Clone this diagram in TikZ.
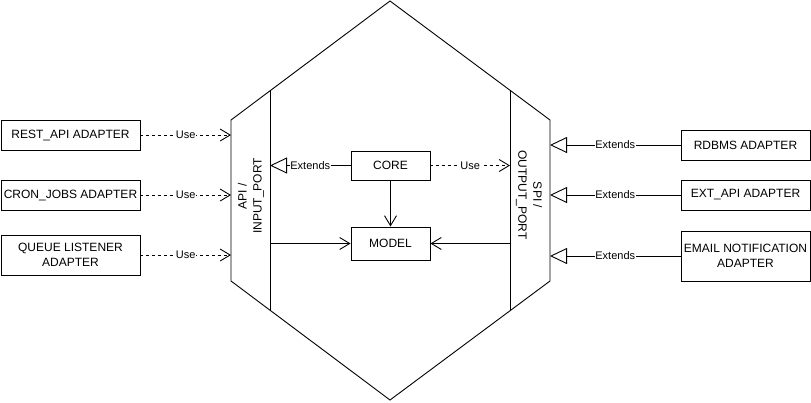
\documentclass[tikz,border=0pt]{standalone}
\usepackage{fontspec}
\setmainfont{Liberation Sans}
\usetikzlibrary{arrows.meta}
\begin{document}
\begin{tikzpicture}[x=1pt,y=-1pt, line width=0.9pt,
  box/.style={draw, rectangle, inner sep=0pt, align=center, font=\fontsize{12}{14.5}\selectfont},
  lbl/.style={fill=white, inner sep=0.5pt, font=\fontsize{11}{12}\selectfont},
  portlbl/.style={align=center, inner sep=0pt, font=\fontsize{12}{15}\selectfont},
  usearrow/.style={dash pattern=on 3pt off 3pt, -{Straight Barb[length=10pt,width=12pt]}},
  openarrow/.style={-{Straight Barb[length=10pt,width=12pt]}},
  extarrow/.style={-{Triangle[open,length=17pt,width=16pt,fill=white]}}]
\useasboundingbox (0,0) rectangle (811,402);
% hexagon
\coordinate (top) at (390,1);
\coordinate (lt) at (231,120);
\coordinate (lb) at (231,281);
\coordinate (bot) at (390,400);
\coordinate (rb) at (550,281);
\coordinate (rt) at (550,120);
\draw (top) -- (lt) -- (lb) -- (bot) -- (rb) -- (rt) -- cycle;
\coordinate (ilt) at (270,90.8);
\coordinate (ilb) at (270,310.2);
\coordinate (irt) at (510,90.5);
\coordinate (irb) at (510,310.5);
\draw (ilt) -- (ilb);
\draw (irt) -- (irb);
\node[portlbl, rotate=90] (api) at (251,196) {API /\\INPUT\_PORT};
\node[portlbl, rotate=-90] (spi) at (529,195) {SPI /\\OUTPUT\_PORT};
% left adapters
\node[box, minimum width=139pt, minimum height=30pt] (rest) at (70.5,135) {REST\_API ADAPTER};
\node[box, minimum width=139pt, minimum height=30pt] (cron) at (70.5,195) {CRON\_JOBS ADAPTER};
\node[box, minimum width=139pt, minimum height=40pt] (queue) at (70.5,255) {QUEUE LISTENER\\ADAPTER};
\coordinate (pin1) at (231,135);
\coordinate (pin2) at (231,195);
\coordinate (pin3) at (231,255);
\draw[usearrow] (rest.east) -- node[lbl] {Use} (pin1);
\draw[usearrow] (cron.east) -- node[lbl] {Use} (pin2);
\draw[usearrow] (queue.east) -- node[lbl] {Use} (pin3);
% right adapters
\node[box, minimum width=129pt, minimum height=30pt] (rdbms) at (745.5,145) {RDBMS ADAPTER};
\node[box, minimum width=129pt, minimum height=30pt] (ext) at (745.5,195) {EXT\_API ADAPTER};
\node[box, minimum width=129pt, minimum height=50pt] (email) at (745.5,256) {EMAIL NOTIFICATION\\ADAPTER};
\coordinate (pout1) at (550,145);
\coordinate (pout2) at (550,195);
\coordinate (pout3) at (550,256);
\draw[extarrow] (rdbms.west) -- node[lbl, pos=0.5] {Extends} (pout1);
\draw[extarrow] (ext.west) -- node[lbl, pos=0.5] {Extends} (pout2);
\draw[extarrow] (email.west) -- node[lbl, pos=0.5] {Extends} (pout3);
% core and model
\node[box, minimum width=79pt, minimum height=29pt] (core) at (390.5,165.5) {CORE};
\node[box, minimum width=79pt, minimum height=33pt] (model) at (390.5,243.5) {MODEL};
\coordinate (apic) at (270,165.5);
\coordinate (spic) at (510,165.5);
\coordinate (apim) at (270,243.5);
\coordinate (spim) at (510,243.5);
\draw[extarrow] (core.west) -- node[lbl] {Extends} (apic);
\draw[usearrow] (core.east) -- node[lbl] {Use} (spic);
\draw[openarrow] (core.south) -- (model.north);
\draw[openarrow] (apim) -- (model.west);
\draw[openarrow] (spim) -- (model.east);
\end{tikzpicture}
\end{document}
